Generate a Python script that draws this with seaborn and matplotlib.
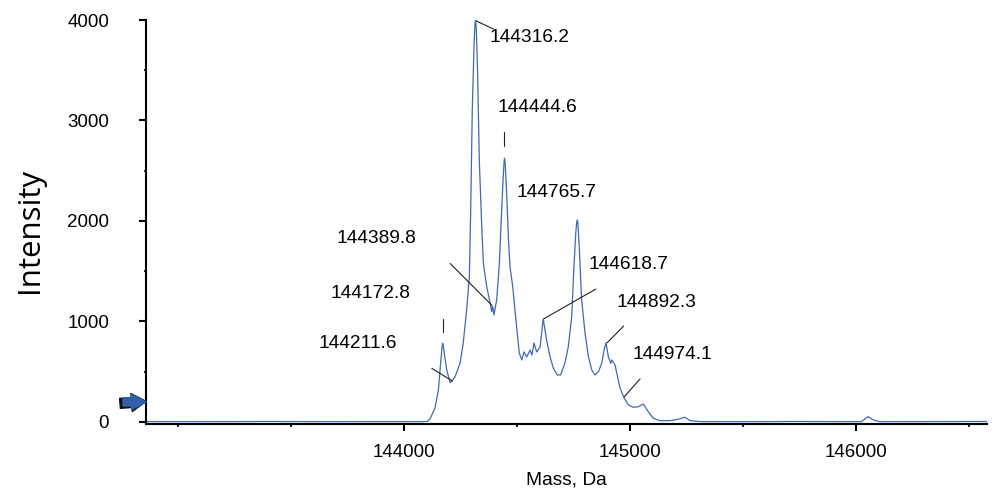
import numpy as np
import pandas as pd
import matplotlib
matplotlib.use("Agg")
import matplotlib.pyplot as plt
import seaborn as sns

# deconvoluted mass spectrum
mass = [142860, 143100, 143400, 143700, 143950, 144080, 144102,
        144115, 144137, 144152, 144162, 144168, 144171, 144174, 144179, 144189,
        144204, 144212, 144226, 144248, 144262, 144277, 144289, 144295, 144302,
        144310, 144314, 144317, 144320, 144326, 144333, 144344, 144351, 144366,
        144381, 144388, 144392, 144398, 144410, 144422, 144432, 144439, 144443,
        144445, 144448, 144454, 144463, 144469, 144481, 144491, 144501, 144510,
        144521, 144531, 144543, 144558, 144566, 144575, 144587, 144602, 144616,
        144631, 144646, 144661, 144678, 144693, 144712, 144727, 144742, 144752,
        144760, 144764, 144767, 144770, 144776, 144786, 144801, 144816, 144831,
        144845, 144860, 144875, 144885, 144894, 144904, 144915, 144920, 144934,
        144948, 144956, 144971, 144993, 145015, 145037, 145059, 145081, 145103,
        145133, 145177, 145214, 145243, 145266, 145310, 145500, 145750, 145996,
        146025, 146054, 146077, 146106, 146300, 146580]
intensity = [4, 3, 5, 3, 4, 3, 5,
             30, 139, 318, 587, 740, 783, 760, 667, 517,
             391, 408, 451, 587, 786, 1114, 1443, 2109, 3104,
             3771, 3960, 4000, 3900, 3436, 2607, 1943, 1582, 1346,
             1184, 1097, 1154, 1065, 1214, 1582, 2109, 2441, 2600,
             2624, 2560, 2279, 1781, 1545, 1346, 1114, 886, 687,
             617, 697, 647, 716, 667, 786, 697, 746, 1025,
             816, 650, 534, 468, 468, 587, 749, 1048, 1545,
             1881, 1980, 2010, 1960, 1711, 1214, 886, 650, 517,
             468, 500, 584, 716, 789, 650, 584, 617, 567,
             418, 338, 252, 169, 146, 152, 179, 102, 37,
             13, 13, 27, 47, 13, 4, 3, 5, 3,
             4, 53, 20, 3, 4, 5]

peak_labels = ["144316.2", "144444.6", "144765.7", "144389.8", "144172.8",
               "144211.6", "144618.7", "144892.3", "144974.1"]

df = pd.DataFrame({"Mass": mass, "Intensity": intensity})

sns.set_style("ticks")
plt.rcParams["font.family"] = ["Liberation Sans", "DejaVu Sans"]
plt.rcParams["text.color"] = "black"
plt.rcParams["axes.labelcolor"] = "black"

fig = plt.figure(figsize=(10.05, 5.01), dpi=100)
ax = fig.add_axes([146 / 1005, 1 - 424 / 501, 841 / 1005, 404 / 501])

sns.lineplot(data=df, x="Mass", y="Intensity", ax=ax, color="#4169b0",
             linewidth=0.9, estimator=None, sort=False)

ax.set_xlim(142858, 146580)
ax.set_ylim(-20, 4000)
ax.set_xticks([144000, 145000, 146000])
ax.set_xticks([143000, 143500, 144500, 145500, 146500], minor=True)
ax.set_yticks([0, 1000, 2000, 3000, 4000])
ax.set_yticks([500, 1500, 2500, 3500], minor=True)

sns.despine(ax=ax)
for s in ["left", "bottom"]:
    ax.spines[s].set_linewidth(1.5)
    ax.spines[s].set_color("black")

ax.tick_params(axis="y", which="major", length=5, width=1.5, pad=21.5,
               labelsize=13.5, colors="black")
ax.tick_params(axis="y", which="minor", length=1.5, width=1.5)
ax.tick_params(axis="x", which="major", length=4.8, width=1.5, pad=9.5,
               labelsize=13.5, colors="black")
ax.tick_params(axis="x", which="minor", length=2, width=1.5)

ax.set_xlabel("Mass, Da", fontsize=13.8, labelpad=8)
ax.set_ylabel("Intensity", fontsize=22.5, family=["Open Sans", "DejaVu Sans"])
ax.yaxis.label.set_va("center")
ax.yaxis.set_label_coords(-0.138, 0.478)

# label layout: leader line start / end and text left-centre, in pixels from the peak
line_offsets = [((1, 0), (18, -8)), ((0, 12.5), (0, 26.5)), None,
                ((-0.4, 4), (-42, 45.7)), ((0, 13), (0, 26)),
                ((0.5, 0), (-20, 12.7)), ((0, 4), (52, 33.7)),
                ((1.5, 1.3), (18, 18)), ((0, 1), (16, 19))]
text_offsets = [(14, -16), (-7, 51), (-61, 29), (-155.4, 71), (-113, 51),
                (-133.5, 37.7), (44.5, 58), (10.5, 42), (8, 43)]

to_data = ax.transData.inverted()
for lab, lo, to in zip(peak_labels, line_offsets, text_offsets):
    m = float(lab)
    y = np.interp(m, mass, intensity)
    p = ax.transData.transform((m, y))
    if lo is not None:
        a = to_data.transform(p + np.array(lo[0]))
        b = to_data.transform(p + np.array(lo[1]))
        ax.plot([a[0], b[0]], [a[1], b[1]], color="#222222", lw=0.8, clip_on=False)
    ax.annotate(lab, xy=(m, y), xytext=to, textcoords="offset pixels",
                ha="left", va="center", fontsize=13.8, color="black")

# blue marker arrow at the left of the axis
ax.annotate("", xy=(0.0, 205), xycoords=("axes fraction", "data"),
            xytext=(-26, -2), textcoords="offset pixels",
            arrowprops=dict(arrowstyle="simple,head_length=0.8,head_width=1.0,tail_width=0.55",
                            mutation_scale=13, color="#111111", shrinkA=0, shrinkB=0),
            annotation_clip=False)
ax.annotate("", xy=(0.0, 200), xycoords=("axes fraction", "data"),
            xytext=(-23, 0), textcoords="offset pixels",
            arrowprops=dict(arrowstyle="simple,head_length=0.8,head_width=0.85,tail_width=0.45",
                            mutation_scale=13, color="#2f5fa8", shrinkA=0, shrinkB=0),
            annotation_clip=False)

fig.savefig("out.png", dpi=100)
